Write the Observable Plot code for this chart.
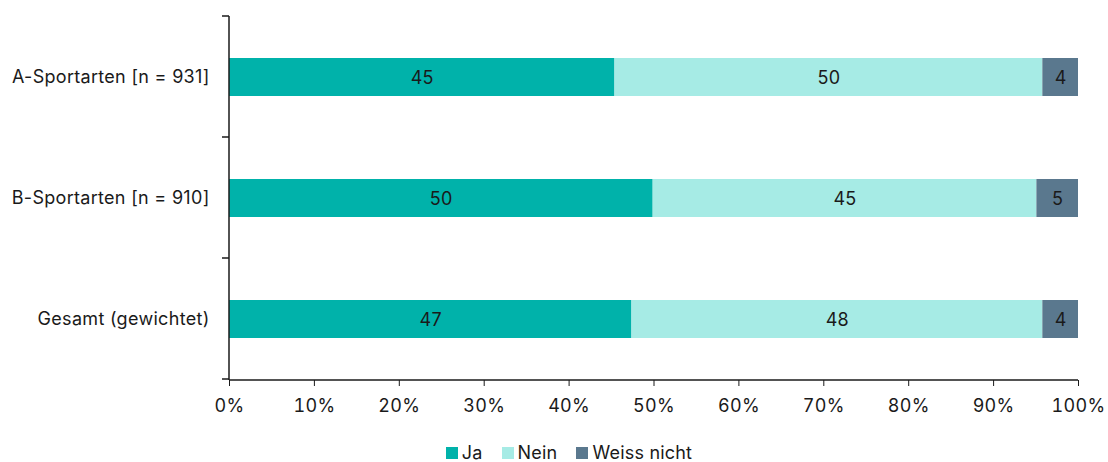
<!DOCTYPE html>
<html><head><meta charset="utf-8">
<script src="https://cdn.jsdelivr.net/npm/d3@7"></script>
<script src="https://cdn.jsdelivr.net/npm/@observablehq/plot@0.6"></script>
<style>
body{margin:0;background:#fff;font-family:Inter,"Noto Sans",sans-serif;color:#1a1a1a;}
#legend{display:flex;justify-content:center;align-items:center;padding-left:30px;margin-top:12px;font-size:18px;letter-spacing:0.2px;gap:19px;}
#legend .item{display:flex;align-items:center;gap:4px;}
#legend .sw{width:12px;height:12px;display:inline-block;}
</style>
</head><body><div id="chart"></div><div id="legend"></div><script>
const categories = ["A-Sportarten [n = 931]", "B-Sportarten [n = 910]", "Gesamt (gewichtet)"];
const answers = ["Ja", "Nein", "Weiss nicht"];
const ja = [45.4, 49.9, 47.4];
const nein = [50.4, 45.2, 48.4];
const weissNicht = [4.2, 4.9, 4.2];
const colors = ["#00b2aa", "#a6ebe5", "#5a788e"];
const xTicks = [0, 10, 20, 30, 40, 50, 60, 70, 80, 90, 100];

const series = [ja, nein, weissNicht];
const data = categories.flatMap((c, i) => answers.map((a, j) => ({category: c, answer: a, value: series[j][i]})));

const plot = Plot.plot({
  width: 1108, height: 430,
  marginLeft: 229, marginRight: 30, marginTop: 16, marginBottom: 50,
  style: {fontFamily: "Inter, 'Noto Sans', sans-serif", fontSize: "18px", letterSpacing: "0.3px", color: "#1a1a1a", background: "#fff", overflow: "visible"},
  x: {domain: [0, 100], ticks: xTicks, tickFormat: d => d + "%", label: null, tickSize: 6, tickPadding: 13},
  y: {domain: categories, paddingInner: 0.686, paddingOuter: 0.343, label: null, tickSize: 0, tickPadding: 20},
  color: {domain: answers, range: colors},
  marks: [
    Plot.barX(data, Plot.stackX({x: "value", y: "category", fill: "answer"})),
    Plot.text(data, Plot.stackX({x: "value", y: "category", text: d => d3.format(".0f")(d.value), fill: "#1a1a1a", fontSize: 18, dy: 1}))
  ]
});
document.getElementById("chart").appendChild(plot);

// axis lines and band-boundary ticks from the plot's own scales
const xs = plot.scale("x"), ys = plot.scale("y");
const [x0, x1] = xs.range;
const [y0, y1] = ys.range;
const g = d3.select(plot).append("g").attr("stroke", "#1a1a1a").attr("stroke-width", 1.5).attr("fill", "none");
g.append("line").attr("x1", x0).attr("x2", x0).attr("y1", y0).attr("y2", y1);
g.append("line").attr("x1", x0).attr("x2", x1).attr("y1", y1).attr("y2", y1);
for (let i = 0; i <= categories.length; i++) {
  const yy = y0 + i * ys.step;
  g.append("line").attr("x1", x0 - 7).attr("x2", x0).attr("y1", yy).attr("y2", yy);
}

// legend
const color = plot.scale("color");
const leg = d3.select("#legend");
answers.forEach((a, i) => {
  const it = leg.append("div").attr("class", "item");
  it.append("span").attr("class", "sw").style("background", color.range[i]);
  it.append("span").text(a);
});
</script></body></html>
